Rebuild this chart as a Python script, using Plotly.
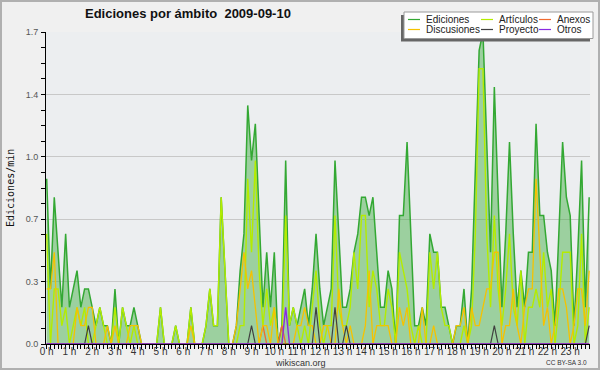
import plotly.graph_objects as go

# 10-minute bins over the day
minutes = list(range(0, 1440, 10))
hours = [m / 60 for m in minutes]
hour_ticks = list(range(24))
hour_labels = [f"{h} h" for h in hour_ticks]

y_ticks = [0.0, 0.34, 0.68, 1.02, 1.36, 1.7]
y_labels = ["0.0", "0.3", "0.7", "1.0", "1.4", "1.7"]

ediciones = [
    0.9, 0.3, 0.8, 0.5, 0.2, 0.6, 0.2, 0.3, 0.4, 0.2, 0.3, 0.3,
    0.2, 0.1, 0.2, 0.1, 0.1, 0.0, 0.3, 0.0, 0.2, 0.1, 0.1, 0.2,
    0.1, 0.0, 0.0, 0.0, 0.0, 0.0, 0.2, 0.0, 0.0, 0.0, 0.1, 0.0,
    0.0, 0.0, 0.2, 0.0, 0.0, 0.0, 0.1, 0.3, 0.1, 0.1, 0.8, 0.4,
    0.0, 0.0, 0.1, 0.4, 0.6, 1.3, 1.0, 1.2, 0.7, 0.2, 0.5, 0.2,
    0.5, 0.0, 0.1, 1.0, 0.1, 0.2, 0.1, 0.2, 0.3, 0.1, 0.3, 0.6,
    0.3, 0.1, 0.2, 0.3, 1.0, 0.6, 0.2, 0.2, 0.3, 0.5, 0.6, 0.8,
    0.8, 0.7, 0.8, 0.5, 0.2, 0.2, 0.4, 0.3, 0.0, 0.7, 0.7, 1.1,
    0.6, 0.1, 0.1, 0.2, 0.1, 0.6, 0.5, 0.5, 0.2, 0.2, 0.1, 0.0,
    0.1, 0.1, 0.3, 0.0, 0.3, 0.9, 1.6, 1.7, 1.1, 0.5, 1.4, 0.8,
    0.2, 0.6, 1.1, 0.6, 0.2, 0.4, 0.2, 0.5, 0.5, 1.2, 0.7, 0.7,
    0.5, 0.4, 0.1, 0.6, 1.1, 0.8, 0.7, 0.1, 0.5, 1.0, 0.2, 0.8,
]

articulos = [
    0.6, 0.0, 0.3, 0.3, 0.1, 0.2, 0.0, 0.1, 0.2, 0.1, 0.2, 0.0,
    0.0, 0.1, 0.2, 0.1, 0.0, 0.0, 0.2, 0.0, 0.2, 0.1, 0.0, 0.1,
    0.0, 0.0, 0.0, 0.0, 0.0, 0.0, 0.2, 0.0, 0.0, 0.0, 0.1, 0.0,
    0.0, 0.0, 0.2, 0.0, 0.0, 0.0, 0.1, 0.3, 0.1, 0.1, 0.8, 0.4,
    0.0, 0.0, 0.0, 0.1, 0.1, 0.9, 0.5, 1.0, 0.4, 0.1, 0.3, 0.1,
    0.2, 0.0, 0.0, 0.7, 0.1, 0.2, 0.1, 0.0, 0.1, 0.0, 0.2, 0.4,
    0.1, 0.0, 0.1, 0.1, 0.7, 0.2, 0.1, 0.1, 0.2, 0.5, 0.3, 0.7,
    0.7, 0.2, 0.4, 0.3, 0.1, 0.1, 0.3, 0.2, 0.0, 0.5, 0.4, 0.3,
    0.1, 0.0, 0.1, 0.0, 0.0, 0.5, 0.3, 0.5, 0.2, 0.1, 0.1, 0.0,
    0.0, 0.0, 0.1, 0.0, 0.1, 0.6, 1.5, 1.5, 0.6, 0.2, 0.7, 0.3,
    0.1, 0.3, 0.6, 0.2, 0.1, 0.4, 0.0, 0.2, 0.2, 0.3, 0.2, 0.5,
    0.2, 0.3, 0.0, 0.2, 0.5, 0.5, 0.5, 0.0, 0.1, 0.6, 0.0, 0.2,
]

discusiones = [
    0.3, 0.3, 0.5, 0.0, 0.0, 0.0, 0.0, 0.0, 0.2, 0.1, 0.1, 0.2,
    0.2, 0.0, 0.0, 0.0, 0.1, 0.0, 0.1, 0.0, 0.0, 0.0, 0.1, 0.1,
    0.1, 0.0, 0.0, 0.0, 0.0, 0.0, 0.0, 0.0, 0.0, 0.0, 0.0, 0.0,
    0.0, 0.0, 0.1, 0.0, 0.0, 0.0, 0.0, 0.0, 0.0, 0.0, 0.0, 0.0,
    0.0, 0.0, 0.1, 0.3, 0.5, 0.3, 0.4, 0.2, 0.0, 0.1, 0.1, 0.0,
    0.2, 0.0, 0.0, 0.0, 0.0, 0.0, 0.1, 0.1, 0.2, 0.1, 0.1, 0.0,
    0.0, 0.1, 0.1, 0.0, 0.0, 0.3, 0.1, 0.0, 0.1, 0.0, 0.0, 0.0,
    0.1, 0.4, 0.0, 0.1, 0.1, 0.1, 0.1, 0.0, 0.0, 0.2, 0.1, 0.2,
    0.0, 0.0, 0.0, 0.2, 0.0, 0.0, 0.1, 0.0, 0.0, 0.0, 0.0, 0.0,
    0.1, 0.1, 0.2, 0.0, 0.2, 0.1, 0.1, 0.2, 0.3, 0.3, 0.5, 0.5,
    0.0, 0.1, 0.1, 0.3, 0.1, 0.0, 0.2, 0.3, 0.3, 0.9, 0.5, 0.1,
    0.2, 0.0, 0.1, 0.3, 0.3, 0.2, 0.0, 0.1, 0.3, 0.3, 0.1, 0.4,
]

proyecto = [
    0.0, 0.0, 0.0, 0.0, 0.0, 0.0, 0.0, 0.0, 0.0, 0.0, 0.0, 0.1,
    0.0, 0.0, 0.0, 0.0, 0.0, 0.0, 0.0, 0.0, 0.0, 0.0, 0.0, 0.0,
    0.0, 0.0, 0.0, 0.0, 0.0, 0.0, 0.0, 0.0, 0.0, 0.0, 0.0, 0.0,
    0.0, 0.0, 0.0, 0.0, 0.0, 0.0, 0.0, 0.0, 0.0, 0.0, 0.0, 0.0,
    0.0, 0.0, 0.0, 0.0, 0.0, 0.0, 0.1, 0.0, 0.0, 0.0, 0.0, 0.0,
    0.0, 0.0, 0.0, 0.0, 0.0, 0.0, 0.0, 0.0, 0.0, 0.0, 0.0, 0.2,
    0.0, 0.0, 0.0, 0.0, 0.2, 0.0, 0.0, 0.1, 0.0, 0.0, 0.0, 0.0,
    0.0, 0.0, 0.0, 0.0, 0.0, 0.0, 0.0, 0.0, 0.0, 0.0, 0.0, 0.0,
    0.0, 0.0, 0.0, 0.0, 0.0, 0.0, 0.0, 0.0, 0.0, 0.0, 0.0, 0.0,
    0.0, 0.0, 0.0, 0.0, 0.0, 0.0, 0.0, 0.0, 0.0, 0.0, 0.1, 0.0,
    0.0, 0.0, 0.0, 0.0, 0.0, 0.0, 0.0, 0.0, 0.0, 0.0, 0.0, 0.0,
    0.0, 0.0, 0.0, 0.0, 0.0, 0.0, 0.0, 0.0, 0.0, 0.0, 0.0, 0.1,
]

anexos = [
    0.0, 0.0, 0.0, 0.0, 0.0, 0.0, 0.0, 0.0, 0.0, 0.0, 0.0, 0.0,
    0.0, 0.0, 0.0, 0.0, 0.0, 0.0, 0.0, 0.0, 0.0, 0.0, 0.0, 0.0,
    0.0, 0.0, 0.0, 0.0, 0.0, 0.0, 0.0, 0.0, 0.0, 0.0, 0.0, 0.0,
    0.0, 0.0, 0.0, 0.0, 0.0, 0.0, 0.0, 0.0, 0.0, 0.0, 0.0, 0.0,
    0.0, 0.0, 0.0, 0.0, 0.0, 0.0, 0.0, 0.0, 0.0, 0.1, 0.0, 0.0,
    0.0, 0.0, 0.1, 0.0, 0.0, 0.0, 0.0, 0.0, 0.0, 0.0, 0.0, 0.0,
    0.0, 0.0, 0.0, 0.0, 0.0, 0.0, 0.0, 0.0, 0.0, 0.0, 0.0, 0.0,
    0.0, 0.0, 0.0, 0.0, 0.0, 0.0, 0.0, 0.0, 0.0, 0.0, 0.0, 0.0,
    0.0, 0.0, 0.0, 0.0, 0.0, 0.0, 0.0, 0.0, 0.0, 0.0, 0.0, 0.0,
    0.0, 0.0, 0.0, 0.0, 0.0, 0.0, 0.0, 0.0, 0.0, 0.0, 0.0, 0.0,
    0.0, 0.0, 0.0, 0.0, 0.0, 0.0, 0.0, 0.0, 0.0, 0.0, 0.0, 0.0,
    0.0, 0.0, 0.0, 0.0, 0.0, 0.0, 0.0, 0.0, 0.0, 0.0, 0.0, 0.0,
]

otros = [
    0.0, 0.0, 0.0, 0.0, 0.0, 0.0, 0.0, 0.0, 0.0, 0.0, 0.0, 0.0,
    0.0, 0.0, 0.0, 0.0, 0.0, 0.0, 0.0, 0.0, 0.0, 0.0, 0.0, 0.0,
    0.0, 0.0, 0.0, 0.0, 0.0, 0.0, 0.0, 0.0, 0.0, 0.0, 0.0, 0.0,
    0.0, 0.0, 0.0, 0.0, 0.0, 0.0, 0.0, 0.0, 0.0, 0.0, 0.0, 0.0,
    0.0, 0.0, 0.0, 0.0, 0.0, 0.0, 0.0, 0.0, 0.0, 0.0, 0.0, 0.0,
    0.0, 0.0, 0.0, 0.2, 0.0, 0.0, 0.0, 0.0, 0.0, 0.0, 0.0, 0.0,
    0.0, 0.0, 0.0, 0.0, 0.0, 0.0, 0.0, 0.0, 0.0, 0.0, 0.0, 0.0,
    0.0, 0.0, 0.0, 0.0, 0.0, 0.0, 0.0, 0.0, 0.0, 0.0, 0.0, 0.0,
    0.0, 0.0, 0.0, 0.0, 0.0, 0.0, 0.0, 0.0, 0.0, 0.0, 0.0, 0.0,
    0.0, 0.0, 0.0, 0.0, 0.0, 0.0, 0.0, 0.0, 0.0, 0.0, 0.0, 0.0,
    0.0, 0.0, 0.0, 0.0, 0.0, 0.0, 0.0, 0.0, 0.0, 0.0, 0.0, 0.0,
    0.0, 0.0, 0.0, 0.0, 0.0, 0.0, 0.0, 0.0, 0.0, 0.0, 0.0, 0.0,
]

C_ED = "#33a833"
C_ART = "#b4ec00"
C_ANX = "#f06a30"
C_DIS = "#f5c200"
C_PRO = "#404040"
C_OTR = "#8a2be2"

W, H = 600, 370
L, R, T, B = 46, 10, 32, 26
PW, PH = W - L - R, H - T - B


def px(x):
    return (x - L) / PW


def py(y):
    return (H - B - y) / PH


fig = go.Figure()
fig.add_trace(go.Scatter(x=hours, y=ediciones, name="Ediciones", mode="lines",
                         line=dict(color=C_ED, width=1.5), fill="tozeroy",
                         fillcolor="rgba(60,170,60,0.45)"))
fig.add_trace(go.Scatter(x=hours, y=articulos, name="Artículos", mode="lines",
                         line=dict(color=C_ART, width=1.4)))
fig.add_trace(go.Scatter(x=hours, y=anexos, name="Anexos", mode="lines",
                         line=dict(color=C_ANX, width=1.3)))
fig.add_trace(go.Scatter(x=hours, y=discusiones, name="Discusiones", mode="lines",
                         line=dict(color=C_DIS, width=1.3)))
fig.add_trace(go.Scatter(x=hours, y=proyecto, name="Proyecto", mode="lines",
                         line=dict(color=C_PRO, width=1.2)))
fig.add_trace(go.Scatter(x=hours, y=otros, name="Otros", mode="lines",
                         line=dict(color=C_OTR, width=1.4)))

tick_font = dict(family="Liberation Sans, Arial, sans-serif", size=10, color="#333333")

fig.update_layout(
    width=W, height=H,
    margin=dict(l=L, r=R, t=T, b=B, pad=0),
    paper_bgcolor="#f0f0f0",
    plot_bgcolor="#eceef0",
    showlegend=False,
    xaxis=dict(
        range=[-0.03, 23.87],
        tickmode="array", tickvals=hour_ticks, ticktext=hour_labels,
        ticks="outside", ticklen=4, tickwidth=1, tickcolor="#000000",
        minor=dict(tickmode="linear", tick0=0, dtick=1 / 6, ticks="outside",
                   ticklen=4, tickwidth=1, tickcolor="#000000", showgrid=False),
        showline=True, linecolor="#000000", linewidth=1,
        showgrid=False, zeroline=False,
        tickfont=tick_font,
        ticklabelstandoff=-6,
    ),
    yaxis=dict(
        range=[0, 1.7],
        tickmode="array", tickvals=y_ticks, ticktext=y_labels,
        ticks="outside", ticklen=4, tickwidth=1, tickcolor="#000000",
        minor=dict(tickmode="linear", tick0=0, dtick=0.085, ticks="outside",
                   ticklen=4, tickwidth=1, tickcolor="#000000", showgrid=False),
        showline=True, linecolor="#000000", linewidth=1,
        showgrid=True, gridcolor="#c8c8c8", gridwidth=1, zeroline=False,
        tickfont=dict(family="Liberation Sans, Arial, sans-serif", size=9, color="#555555"),
        ticklabelstandoff=1,
    ),
)

shapes = []
annotations = []

# outer frame
shapes.append(dict(type="rect", xref="paper", yref="paper",
                   x0=px(1), x1=px(W - 1), y0=py(H - 1), y1=py(1),
                   line=dict(color="#b0b0b0", width=2), fillcolor="rgba(0,0,0,0)",
                   layer="above"))

# legend (shadow + box)
shapes.append(dict(type="rect", xref="paper", yref="paper",
                   x0=px(401), x1=px(590), y0=py(41.5), y1=py(15),
                   line=dict(width=0), fillcolor="#666666", layer="above"))
shapes.append(dict(type="rect", xref="paper", yref="paper",
                   x0=px(404), x1=px(593), y0=py(38.5), y1=py(12),
                   line=dict(color="#9a9a9a", width=1), fillcolor="#ffffff", layer="above"))

legend_items = [
    ("Ediciones", C_ED, 408, 424, 19.5),
    ("Artículos", C_ART, 481, 497, 19.5),
    ("Anexos", C_ANX, 539, 555, 19.5),
    ("Discusiones", C_DIS, 408, 424, 29.5),
    ("Proyecto", C_PRO, 481, 497, 29.5),
    ("Otros", C_OTR, 539, 555, 29.5),
]
for name, color, lx, tx, ly in legend_items:
    shapes.append(dict(type="line", xref="paper", yref="paper",
                       x0=px(lx), x1=px(lx + 12), y0=py(ly), y1=py(ly),
                       line=dict(color=color, width=1.2), layer="above"))
    annotations.append(dict(text=name, xref="paper", yref="paper",
                            x=px(tx), y=py(ly), xanchor="left", yanchor="middle",
                            showarrow=False,
                            font=dict(family="Liberation Sans, Arial, sans-serif",
                                      size=10, color="#222222")))

# title
annotations.append(dict(text="<b>Ediciones por ámbito\u00a0\u00a02009-09-10</b>",
                        xref="paper", yref="paper", x=px(187.5), y=py(13.5),
                        xanchor="center", yanchor="middle", showarrow=False,
                        font=dict(family="Liberation Sans, Arial, sans-serif",
                                  size=13, color="#111111")))
# y-axis title
annotations.append(dict(text="Ediciones/min", xref="paper", yref="paper",
                        x=px(10), y=py(188), xanchor="center", yanchor="middle",
                        textangle=-90, showarrow=False,
                        font=dict(family="DejaVu Sans Mono, monospace", size=10,
                                  color="#111111")))
# footer
annotations.append(dict(text="wikiscan.org", xref="paper", yref="paper",
                        x=px(300), y=py(362.5), xanchor="center", yanchor="middle",
                        showarrow=False,
                        font=dict(family="Liberation Sans, Arial, sans-serif",
                                  size=9, color="#333333")))
annotations.append(dict(text="CC BY-SA 3.0", xref="paper", yref="paper",
                        x=px(589), y=py(362.5), xanchor="right", yanchor="middle",
                        showarrow=False,
                        font=dict(family="Liberation Sans, Arial, sans-serif",
                                  size=6.5, color="#333333")))

fig.update_layout(shapes=shapes, annotations=annotations)

fig.write_html("out.html",
               config={"displayModeBar": False},
               post_script="document.body.style.margin='0';document.body.style.padding='0';")
